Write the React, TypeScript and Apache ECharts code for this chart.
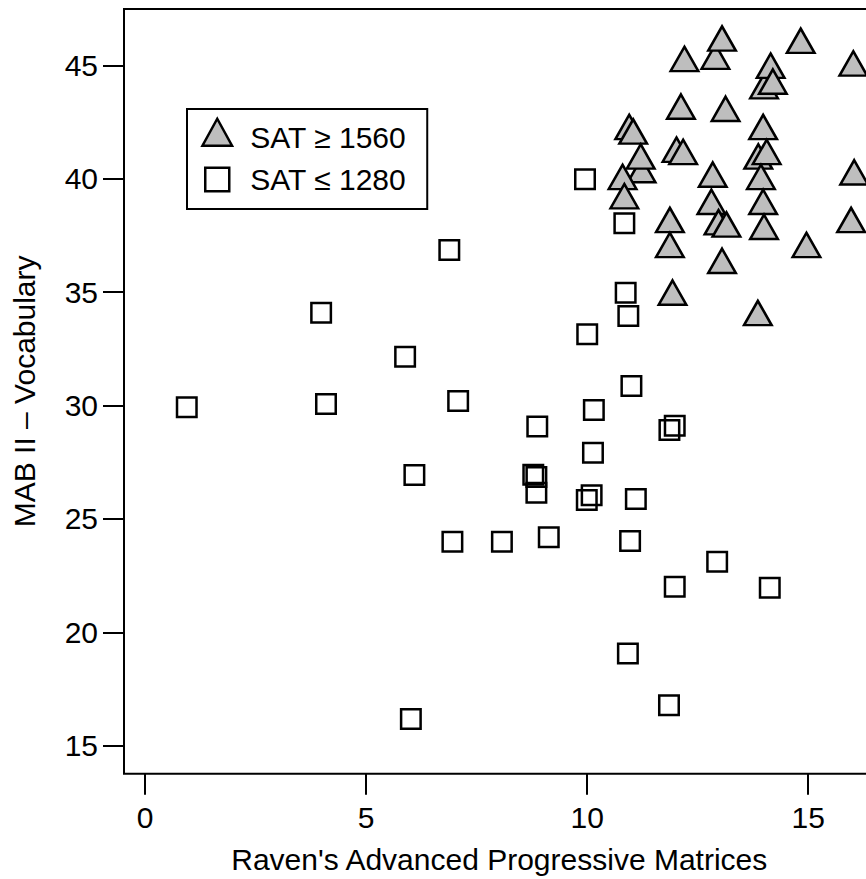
import React, { useEffect, useRef } from "react";
import * as echarts from "echarts";

// ---- data ----
const xAxisTitle = "Raven's Advanced Progressive Matrices";
const yAxisTitle = "MAB II – Vocabulary";
const highLabel = "SAT ≥ 1560";
const lowLabel = "SAT ≤ 1280";

const xTicks = [0, 5, 10, 15];
const yTicks = [15, 20, 25, 30, 35, 40, 45];
const xRange = [-0.48, 16.5];
const yRange = [13.77, 47.48];

// SAT >= 1560 (triangles), in drawing order
const highRaven = [
  12.9, 13.05, 12.2, 14.83, 16.02, 14.0, 14.15, 14.2, 12.12, 13.13, 13.98, 13.87,
  14.06, 13.93, 13.98, 14.0, 14.96, 16.04, 15.97, 13.86, 13.05, 12.84, 12.81, 12.97,
  13.15, 11.87, 11.87, 11.93, 10.95, 11.04, 11.23, 11.21, 10.8, 10.84, 12.02, 12.17,
];
const highVocab = [
  45.2, 46.0, 45.1, 45.9, 44.9, 43.9, 44.8, 44.1, 43.0, 42.9, 42.1, 40.8,
  41.0, 39.9, 38.8, 37.7, 36.9, 40.1, 38.0, 33.9, 36.2, 40.0, 38.8, 37.9,
  37.8, 38.0, 36.9, 34.8, 42.1, 41.9, 40.2, 40.8, 39.9, 39.05, 41.1, 41.0,
];

// SAT <= 1280 (squares)
const lowRaven = [
  0.94, 3.98, 4.09, 5.88, 6.09, 6.01, 6.88, 7.08, 6.95, 8.07, 9.13, 8.87,
  8.78, 8.85, 8.85, 9.95, 10.84, 10.87, 10.93, 10.0, 11.0, 10.15, 11.86, 11.98,
  10.13, 10.1, 9.99, 11.1, 10.97, 12.94, 11.98, 14.13, 10.92, 11.85,
];
const lowVocab = [
  29.92, 34.09, 30.07, 32.15, 26.94, 16.18, 36.86, 30.2, 24.0, 24.0, 24.19, 29.07,
  26.95, 26.85, 26.15, 39.98, 38.03, 34.97, 33.95, 33.14, 30.86, 29.8, 28.92, 29.11,
  27.92, 26.05, 25.83, 25.88, 24.03, 23.11, 22.01, 21.97, 19.07, 16.79,
];

const FONT = "'Liberation Sans', Arial, Helvetica, sans-serif";

export default function App() {
  const ref = useRef<HTMLDivElement>(null);

  useEffect(() => {
    if (!ref.current) return;
    const chart = echarts.init(ref.current, null, { renderer: "svg" });

    const pxPerX = 44.2;
    const gridLeft = 124;
    const gridTop = 9;
    const gridWidth = (xRange[1] - xRange[0]) * pxPerX;
    const gridHeight = 764.7;

    const triH = 24.3;
    const triW = 27.6;

    const highData = highRaven.map((x, i) => [x, highVocab[i]]);
    const lowData = lowRaven.map((x, i) => [x, lowVocab[i]]);

    chart.setOption({
      animation: false,
      backgroundColor: "#ffffff",
      textStyle: { fontFamily: FONT },
      grid: {
        left: gridLeft,
        top: gridTop,
        width: gridWidth,
        height: gridHeight,
        outerBoundsMode: "none",
        containLabel: false,
        show: true,
        borderColor: "#000",
        borderWidth: 2,
        backgroundColor: "transparent",
      },
      legend: {
        orient: "vertical",
        left: 187,
        top: 109,
        padding: [7, 21, 8, 12],
        itemGap: 0,
        itemWidth: 34,
        itemHeight: 40,
        borderColor: "#000",
        borderWidth: 2,
        borderRadius: 0,
        backgroundColor: "#fff",
        selectedMode: false,
        itemStyle: { borderColor: "#000", borderWidth: 2.5 },
        textStyle: {
          fontSize: 30,
          lineHeight: 30,
          fontFamily: FONT,
          color: "#000",
          padding: [0, 0, 0, 11],
        },
        data: [
          {
            name: highLabel,
            icon: "path://M0,0 M34,40 M17,1.5 L31.8,28.5 L2.2,28.5 Z",
          },
          {
            name: lowLabel,
            icon: "path://M0,0 M34,40 M5,8 L29,8 L29,31.5 L5,31.5 Z",
          },
        ],
      },
      xAxis: {
        type: "value",
        min: xRange[0],
        max: xRange[1],
        name: xAxisTitle,
        nameLocation: "middle",
        nameGap: 71,
        nameMoveOverlap: false,
        nameTextStyle: { fontSize: 30, color: "#000", fontFamily: FONT },
        axisLine: { show: false, onZero: false },
        splitLine: { show: false },
        axisTick: {
          show: true,
          length: 21,
          inside: false,
          customValues: xTicks,
          lineStyle: { color: "#000", width: 2 },
        },
        axisLabel: {
          show: true,
          customValues: xTicks,
          margin: 29,
          fontSize: 30,
          color: "#000",
          fontFamily: FONT,
        },
      },
      yAxis: {
        type: "value",
        min: yRange[0],
        max: yRange[1],
        name: yAxisTitle,
        nameLocation: "middle",
        nameRotate: 90,
        nameGap: 85,
        nameMoveOverlap: false,
        nameTextStyle: { fontSize: 30, color: "#000", fontFamily: FONT },
        axisLine: { show: false, onZero: false },
        splitLine: { show: false },
        axisTick: {
          show: true,
          length: 21,
          inside: false,
          customValues: yTicks,
          lineStyle: { color: "#000", width: 2 },
        },
        axisLabel: {
          show: true,
          customValues: yTicks,
          margin: 26,
          fontSize: 30,
          color: "#000",
          fontFamily: FONT,
        },
      },
      series: [
        {
          name: lowLabel,
          type: "scatter",
          data: lowData,
          symbol: "rect",
          symbolSize: 19.5,
          itemStyle: {
            color: "rgba(255,255,255,0)",
            borderColor: "#000",
            borderWidth: 2.5,
            opacity: 1,
          },
          emphasis: { disabled: true },
          z: 2,
        },
        {
          name: highLabel,
          type: "scatter",
          data: highData,
          symbol: "triangle",
          symbolSize: [triW, triH],
          symbolOffset: [0, -triH / 6],
          itemStyle: {
            color: "#BEBEBE",
            borderColor: "#000",
            borderWidth: 2.5,
            opacity: 1,
          },
          emphasis: { disabled: true },
          z: 3,
        },
      ],
    });

    return () => {
      chart.dispose();
    };
  }, []);

  return (
    <div
      ref={ref}
      style={{
        position: "absolute",
        left: 0,
        top: 0,
        width: 866,
        height: 879,
        background: "#fff",
      }}
    />
  );
}
